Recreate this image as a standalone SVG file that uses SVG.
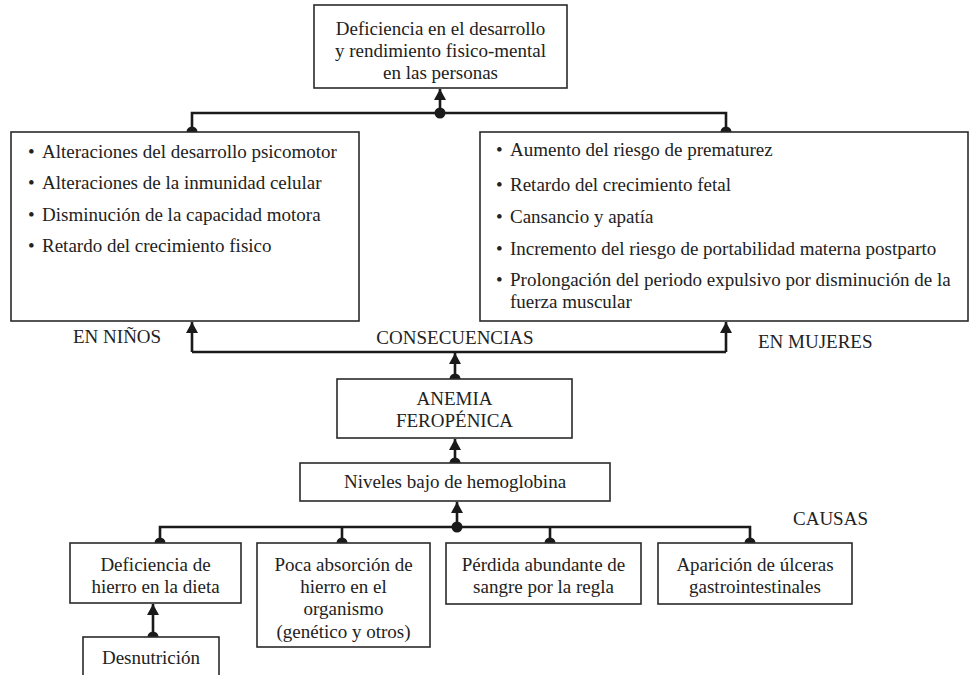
<svg xmlns="http://www.w3.org/2000/svg" width="971" height="675" viewBox="0 0 971 675">
<style>
  .box { fill: #ffffff; stroke: #2a2a2a; stroke-width: 1.6; }
  text { font-family: 'Liberation Serif', 'DejaVu Serif', serif; font-size: 19px; fill: #222222; }
  .c { text-anchor: middle; }
  .conn { fill: none; stroke: #1a1a1a; stroke-width: 2.6; }
  .dot { fill: #1a1a1a; }
</style>
<defs>
  <marker id="arr" markerUnits="userSpaceOnUse" markerWidth="12" markerHeight="12" refX="11" refY="6" orient="auto">
    <path d="M0,0 L11,6 L0,12 Z" fill="#1a1a1a"/>
  </marker>
</defs>
<rect width="971" height="675" fill="#ffffff"/>

<g id="connectors">
  <path class="conn" d="M192,132 V113 H726 V132"/>
  <path class="conn" d="M440,113 V89" marker-end="url(#arr)"/>
  <circle class="dot" cx="440" cy="113" r="5.5"/>
  <circle class="dot" cx="192" cy="132" r="5.5"/>
  <circle class="dot" cx="726" cy="132" r="5.5"/>

  <path class="conn" d="M192,352 H726"/>
  <path class="conn" d="M192,352 V322" marker-end="url(#arr)"/>
  <path class="conn" d="M726,352 V322" marker-end="url(#arr)"/>
  <path class="conn" d="M455,379 V353" marker-end="url(#arr)"/>
  <circle class="dot" cx="455" cy="379" r="5.5"/>

  <path class="conn" d="M455,463 V439" marker-end="url(#arr)"/>
  <circle class="dot" cx="455" cy="463" r="5.5"/>

  <path class="conn" d="M160,543 V527 H750 V543"/>
  <path class="conn" d="M342,527 V543"/>
  <path class="conn" d="M550,527 V543"/>
  <path class="conn" d="M457,527 V502" marker-end="url(#arr)"/>
  <circle class="dot" cx="457" cy="527" r="5.5"/>
  <circle class="dot" cx="160" cy="543" r="5.5"/>
  <circle class="dot" cx="342" cy="543" r="5.5"/>
  <circle class="dot" cx="550" cy="543" r="5.5"/>
  <circle class="dot" cx="750" cy="543" r="5.5"/>

  <path class="conn" d="M153,637 V604" marker-end="url(#arr)"/>
  <circle class="dot" cx="153" cy="637" r="5.5"/>
</g>

<g id="top">
  <rect class="box" x="314" y="5" width="253" height="83"/>
  <text class="c" x="440.5" y="35">Deficiencia en el desarrollo</text>
  <text class="c" x="440.5" y="57">y rendimiento fisico-mental</text>
  <text class="c" x="440.5" y="79">en las personas</text>
</g>

<g id="ninos">
  <rect class="box" x="11" y="132" width="348" height="189"/>
  <text x="28" y="158">•</text><text x="42" y="158">Alteraciones del desarrollo psicomotor</text>
  <text x="28" y="189">•</text><text x="42" y="189">Alteraciones de la inmunidad celular</text>
  <text x="28" y="221">•</text><text x="42" y="221">Disminución de la capacidad motora</text>
  <text x="28" y="252">•</text><text x="42" y="252">Retardo del crecimiento fisico</text>
</g>

<g id="mujeres">
  <rect class="box" x="480" y="132" width="488" height="189"/>
  <text x="496" y="156">•</text><text x="510" y="156">Aumento del riesgo de prematurez</text>
  <text x="496" y="191">•</text><text x="510" y="191">Retardo del crecimiento fetal</text>
  <text x="496" y="223">•</text><text x="510" y="223">Cansancio y apatía</text>
  <text x="496" y="255">•</text><text x="510" y="255">Incremento del riesgo de portabilidad materna postparto</text>
  <text x="496" y="286">•</text><text x="510" y="286">Prolongación del periodo expulsivo por disminución de la</text>
  <text x="510" y="308">fuerza muscular</text>
</g>

<g id="labels">
  <text x="73" y="343">EN NIÑOS</text>
  <text class="c" x="455" y="344">CONSECUENCIAS</text>
  <text x="758" y="348">EN MUJERES</text>
  <text x="793" y="525">CAUSAS</text>
</g>

<g id="anemia">
  <rect class="box" x="337" y="379" width="235" height="59"/>
  <text class="c" x="454.5" y="405">ANEMIA</text>
  <text class="c" x="454.5" y="427">FEROPÉNICA</text>
</g>

<g id="niveles">
  <rect class="box" x="300" y="463" width="310" height="38"/>
  <text class="c" x="455" y="488">Niveles bajo de hemoglobina</text>
</g>

<g id="causa1">
  <rect class="box" x="70" y="543" width="171" height="60"/>
  <text class="c" x="155.5" y="571">Deficiencia de</text>
  <text class="c" x="155.5" y="593">hierro en la dieta</text>
</g>

<g id="causa2">
  <rect class="box" x="257" y="543" width="173" height="104"/>
  <text class="c" x="343.5" y="571">Poca absorción de</text>
  <text class="c" x="343.5" y="593">hierro en el</text>
  <text class="c" x="343.5" y="615">organismo</text>
  <text class="c" x="343.5" y="638">(genético y otros)</text>
</g>

<g id="causa3">
  <rect class="box" x="446" y="543" width="195" height="61"/>
  <text class="c" x="543.5" y="571">Pérdida abundante de</text>
  <text class="c" x="543.5" y="593">sangre por la regla</text>
</g>

<g id="causa4">
  <rect class="box" x="658" y="543" width="194" height="61"/>
  <text class="c" x="755" y="571">Aparición de úlceras</text>
  <text class="c" x="755" y="593">gastrointestinales</text>
</g>

<g id="desnutricion">
  <rect class="box" x="83" y="637" width="136" height="50"/>
  <text class="c" x="151" y="664">Desnutrición</text>
</g>
</svg>
